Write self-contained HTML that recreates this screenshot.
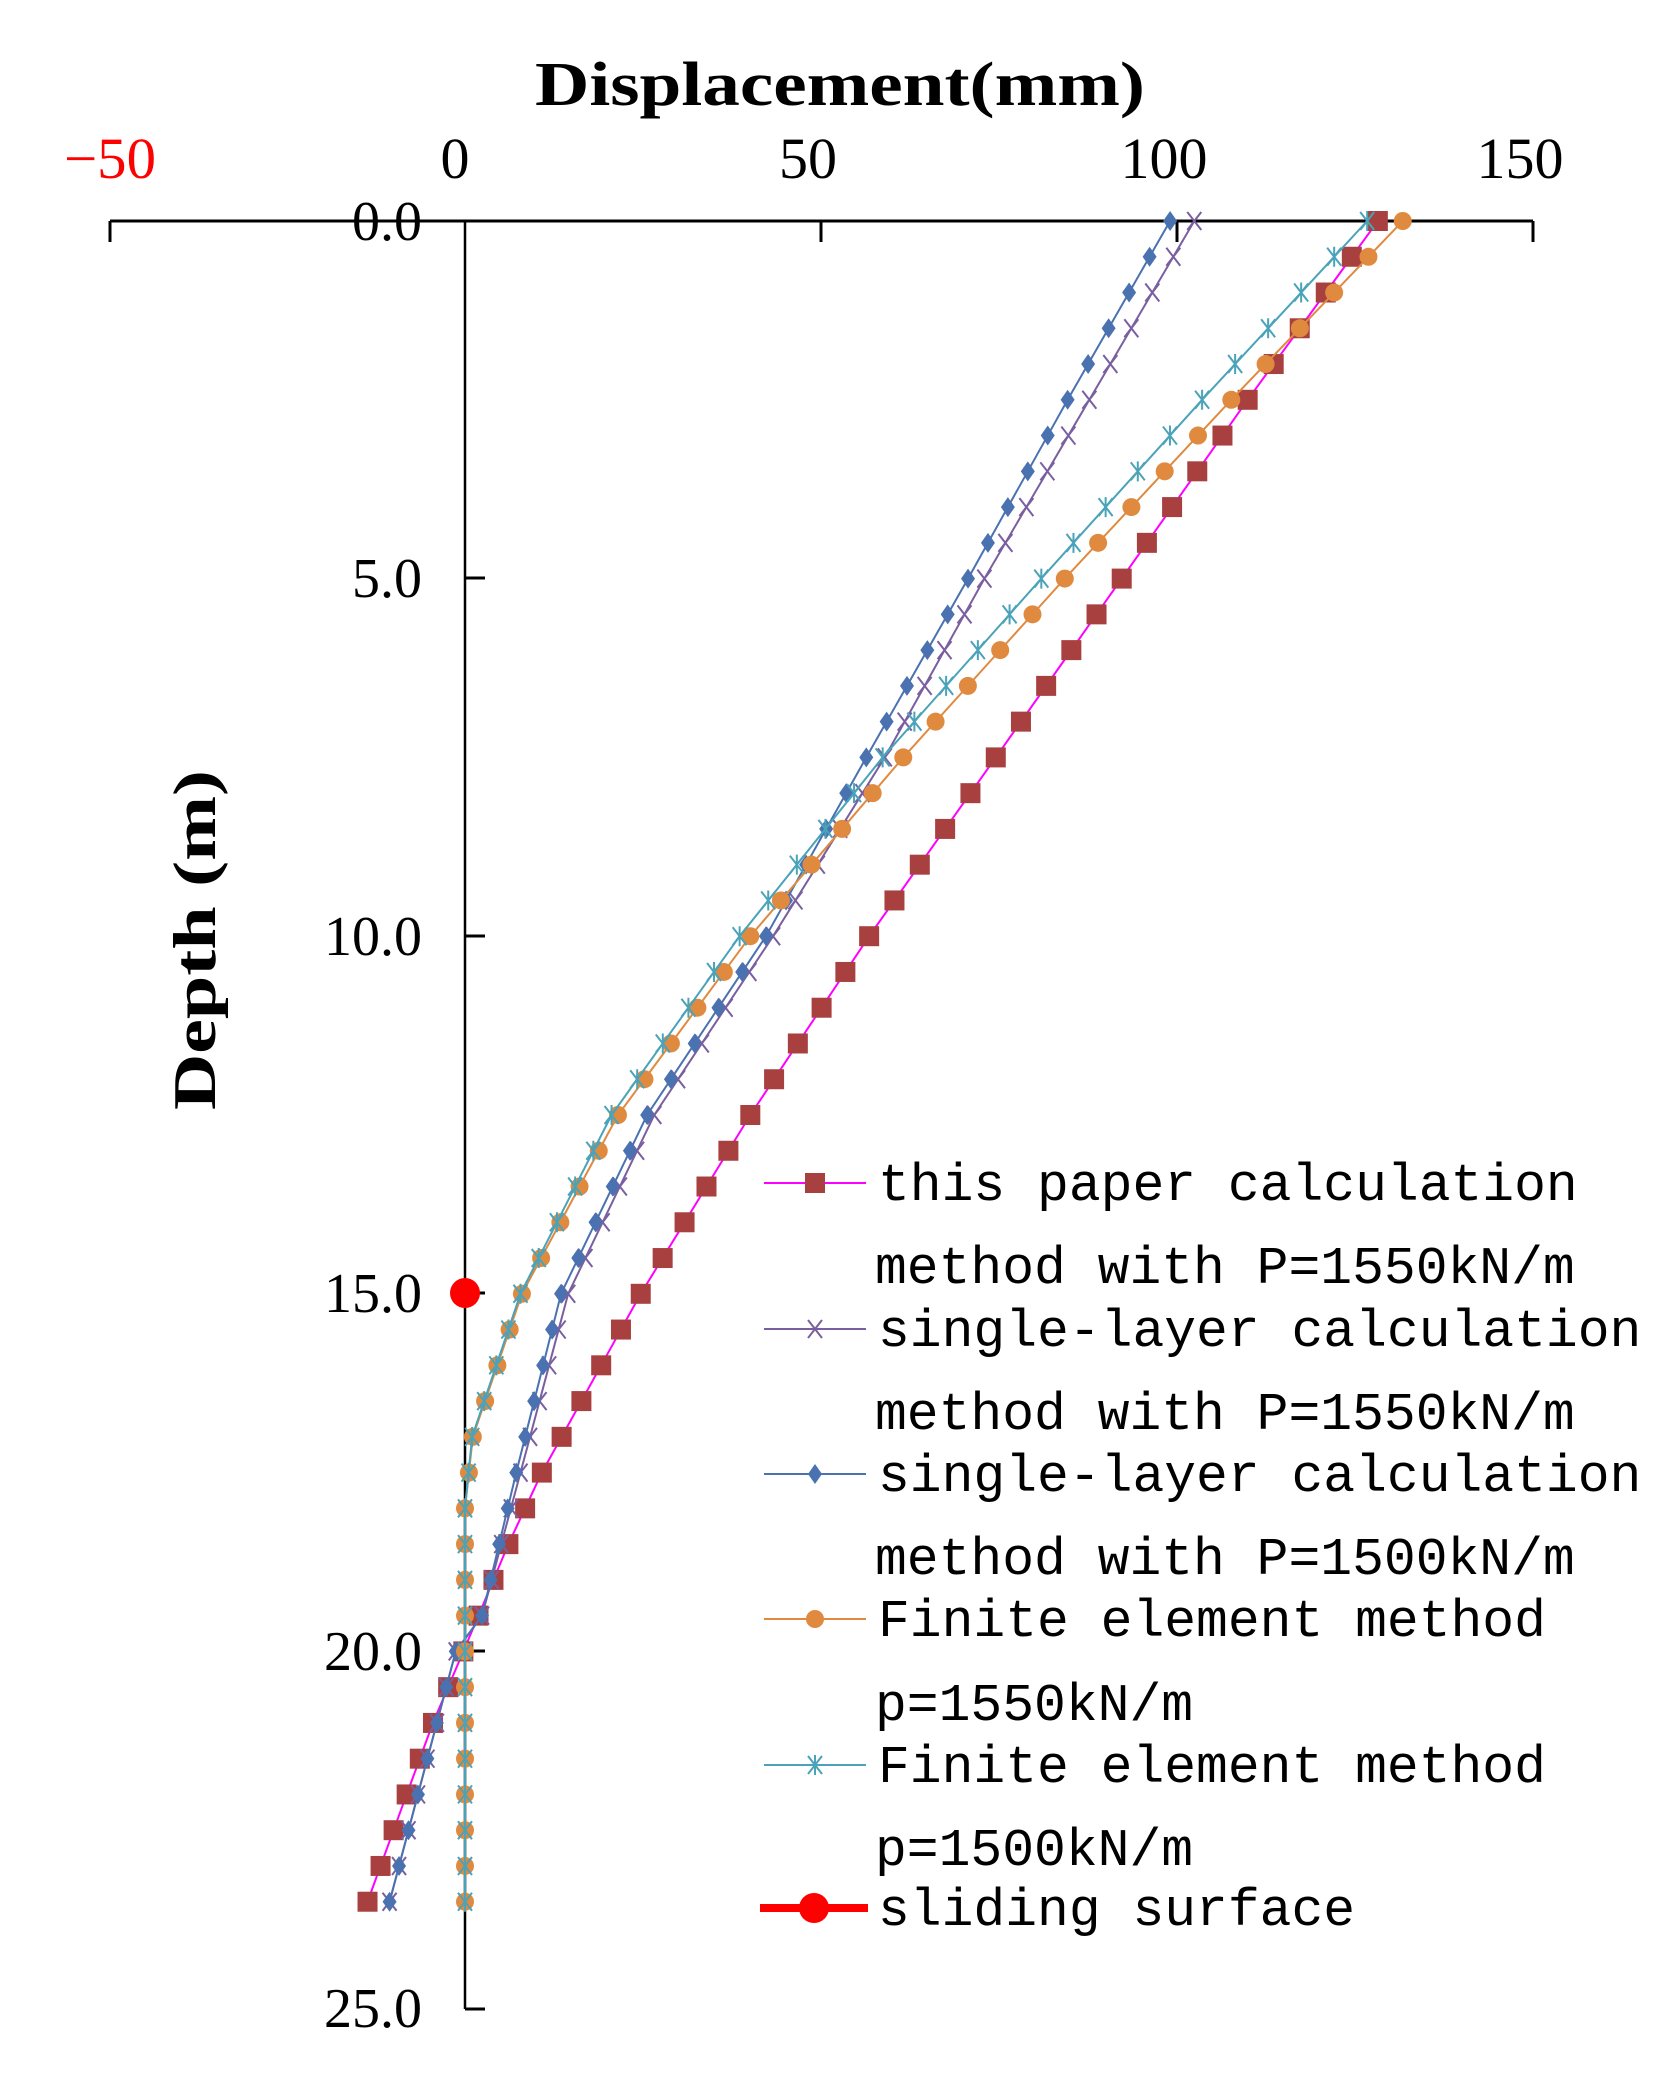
<!DOCTYPE html>
<html><head><meta charset="utf-8"><style>body{margin:0;background:#fff}svg{display:block}</style></head>
<body>
<svg id="s" width="1679" height="2073" viewBox="0 0 1679 2073" xmlns="http://www.w3.org/2000/svg">
<text x="840" y="105" font-family="Liberation Serif, serif" font-weight="bold" font-size="62" text-anchor="middle" textLength="610" lengthAdjust="spacingAndGlyphs">Displacement(mm)</text>
<g font-family="Liberation Serif, serif" font-size="58" text-anchor="middle">
<text x="110" y="178" fill="#f00" textLength="92" lengthAdjust="spacingAndGlyphs">−50</text>
<text x="455" y="178">0</text>
<text x="808" y="178">50</text>
<text x="1164" y="178">100</text>
<text x="1520" y="178">150</text>
</g>
<g font-family="Liberation Serif, serif" font-size="56" text-anchor="end">
<text x="422" y="240">0.0</text>
<text x="422" y="597">5.0</text>
<text x="422" y="955">10.0</text>
<text x="422" y="1312">15.0</text>
<text x="422" y="1670">20.0</text>
<text x="422" y="2027">25.0</text>
</g>
<text transform="translate(215,940) rotate(-90)" font-family="Liberation Serif, serif" font-weight="bold" font-size="60" text-anchor="middle" textLength="340" lengthAdjust="spacingAndGlyphs">Depth (m)</text>
<g stroke="#000" stroke-width="3" fill="none">
<line x1="110" y1="221" x2="1533" y2="221"/>
<line x1="110" y1="221" x2="110" y2="242"/>
<line x1="821" y1="221" x2="821" y2="242"/>
<line x1="1177" y1="221" x2="1177" y2="242"/>
<line x1="1533" y1="221" x2="1533" y2="242"/>
<line x1="465" y1="221" x2="465" y2="2009" stroke-width="2.5"/>
<line x1="465" y1="2009" x2="485" y2="2009"/>
<line x1="465" y1="578" x2="485" y2="578"/>
<line x1="465" y1="936" x2="485" y2="936"/>
<line x1="465" y1="1293" x2="485" y2="1293"/>
<line x1="465" y1="1651" x2="485" y2="1651"/>
</g>
<g id="plot"></g>
<circle cx="465" cy="1293" r="15" fill="#f00"/>
<g id="leg" font-family="Liberation Mono, monospace" font-size="53" fill="#000">
<text x="878" y="1200">this paper calculation</text>
<text x="875" y="1283">method with P=1550kN/m</text>
<text x="878" y="1346">single-layer calculation</text>
<text x="875" y="1429">method with P=1550kN/m</text>
<text x="878" y="1491">single-layer calculation</text>
<text x="875" y="1574">method with P=1500kN/m</text>
<text x="878" y="1636">Finite element method</text>
<text x="875" y="1720">p=1550kN/m</text>
<text x="878" y="1782">Finite element method</text>
<text x="875" y="1865">p=1500kN/m</text>
<text x="878" y="1925">sliding surface</text>
</g>
<line x1="760" y1="1908" x2="868" y2="1908" stroke="#f00" stroke-width="8"/>
<circle cx="814" cy="1908" r="15" fill="#f00"/>
</svg>
<script>
const NS="http://www.w3.org/2000/svg";
const X=m=>465+m*7.115, Y=d=>221+d*71.52;
function interp(k,d){for(let i=0;i<k.length-1;i++){if(d>=k[i][0]&&d<=k[i+1][0]){const t=(d-k[i][0])/(k[i+1][0]-k[i][0]);return k[i][1]+t*(k[i+1][1]-k[i][1]);}}return k[k.length-1][1];}
const S=[
{k:[[0,128.3],[2.5,110],[5,92.3],[7.5,74.6],[10,56.8],[12.5,40.1],[15,24.7],[17.5,10.8],[18.5,6.1],[19.5,1.9],[21,-4.5],[22,-8.2],[23.5,-13.7]],line:"#ff00ff",m:"sq",c:"#a84040"},
{k:[[0,102.5],[5,73],[7.5,59],[10,43.3],[12.5,26.6],[15,14.5],[17.5,7.8],[19.5,2.4],[20,-1.3],[23.5,-10.6]],line:"#7a5fa0",m:"x",c:"#7a5fa0"},
{k:[[0,99.1],[2.5,84.7],[5,70.7],[7.5,56.4],[10,42.3],[12.5,25.6],[15,13.5],[17.5,7.2],[19.5,2.4],[20,-1.3],[23.5,-10.6]],line:"#4a72b0",m:"d",c:"#4a72b0"},
{k:[[0,131.8],[2.5,107.7],[5,84.3],[7.5,61.6],[10,40.1],[12.5,21.5],[15,8],[17,1.1],[18,0],[23.5,0]],line:"#e08a40",m:"o",c:"#e08a40"},
{k:[[0,126.8],[2.5,103.6],[5,81],[7.5,58.7],[10,38.6],[12.5,20.6],[15,7.8],[17,1],[18,0],[23.5,0]],line:"#4aa3b8",m:"*",c:"#4aa3b8"}];
const P=document.getElementById("plot");
function el(t,a){const e=document.createElementNS(NS,t);for(const k in a)e.setAttribute(k,a[k]);return e;}
function mark(g,m,c,x,y){
 if(m=="sq")g.appendChild(el("rect",{x:x-10,y:y-10,width:20,height:20,fill:c}));
 else if(m=="o")g.appendChild(el("circle",{cx:x,cy:y,r:9,fill:c}));
 else if(m=="d")g.appendChild(el("polygon",{points:`${x},${y-10} ${x+7},${y} ${x},${y+10} ${x-7},${y}`,fill:c}));
 else if(m=="x")g.appendChild(el("path",{d:`M${x-7} ${y-9}L${x+7} ${y+9}M${x+7} ${y-9}L${x-7} ${y+9}`,stroke:c,"stroke-width":2,fill:"none"}));
 else g.appendChild(el("path",{d:`M${x-7} ${y-9}L${x+7} ${y+9}M${x+7} ${y-9}L${x-7} ${y+9}M${x} ${y-10}L${x} ${y+10}`,stroke:c,"stroke-width":2,fill:"none"}));
}
S.forEach((s,i)=>{const pts=[];for(let d=0;d<=23.5001;d+=0.5)pts.push([X(interp(s.k,d)),Y(d)]);
 const g=el("g",{});P.appendChild(g);
 g.appendChild(el("polyline",{points:pts.map(p=>p.join(",")).join(" "),fill:"none",stroke:s.line,"stroke-width":2}));
 pts.forEach(p=>mark(g,s.m,s.c,p[0],p[1]));
 const ly=[1183,1329,1474,1619,1765][i];
 const sv=document.getElementById("s");
 sv.appendChild(el("line",{x1:764,y1:ly,x2:866,y2:ly,stroke:s.line,"stroke-width":2}));
 mark(sv,s.m,s.c,815,ly);
});
</script>
</body></html>
